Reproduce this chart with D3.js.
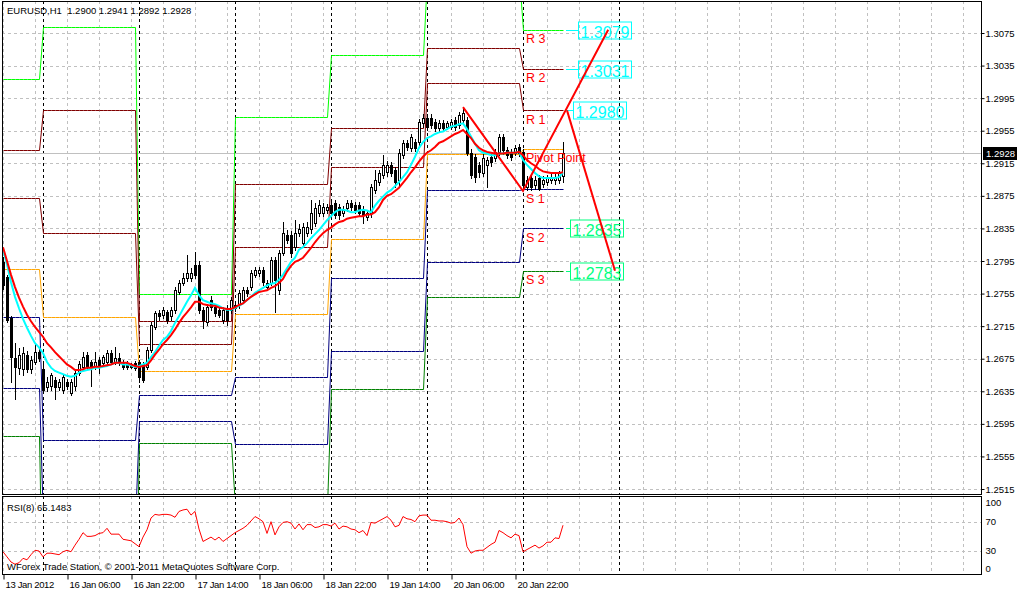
<!DOCTYPE html>
<html><head><meta charset="utf-8">
<script src="https://cdn.jsdelivr.net/npm/d3@7"></script>
<style>
body{margin:0;background:#fff;}
svg{display:block;}
text{font-family:"Liberation Sans",Arial,sans-serif;}
</style>
</head><body>
<svg id="c" width="1018" height="592"></svg>
<script>
// ---------------- DATA ----------------
const symbolTitle = "EURUSD,H1";
const lastBarText = "1.2900 1.2941 1.2892 1.2928";
const rsiTitle = "RSI(8) 65.1483";
const copyrightText = "WForex Trade Station, © 2001-2011 MetaQuotes Software Corp.";
const bidPrice = 1.2928;

const opens = [1.2794,1.2775,1.2725,1.2676,1.2664,1.2662,1.2680,1.2662,1.2671,1.2683,
1.2662,1.2640,1.2641,1.2649,1.2640,1.2637,1.2646,1.2633,1.2641,1.2658,
1.2665,1.2680,1.2671,1.2665,1.2674,1.2670,1.2671,1.2682,1.2671,1.2676,
1.2671,1.2670,1.2668,1.2670,
1.2671,1.2668,1.2665,1.2686,1.2714,1.2731,1.2729,1.2732,1.2727,1.2735,
1.2757,1.2768,1.2774,1.2774,1.2790,1.2790,1.2735,1.2720,1.2747,1.2738,
1.2735,1.2723,1.2737,1.2735,
1.2737,1.2741,1.2747,1.2759,1.2763,1.2778,1.2780,1.2784,1.2763,1.2768,
1.2796,1.2759,1.2805,1.2827,1.2827,1.2812,1.2830,1.2817,1.2830,1.2834,
1.2842,1.2854,1.2854,1.2858,
1.2864,1.2866,1.2861,1.2854,1.2860,1.2866,1.2864,1.2864,1.2858,1.2849,
1.2854,1.2882,1.2892,1.2901,1.2904,1.2913,1.2907,1.2895,1.2925,1.2940,
1.2934,1.2941,1.2941,1.2964,
1.2971,1.2971,1.2966,1.2958,1.2964,1.2960,1.2960,1.2968,1.2962,1.2968,
1.2968,1.2928,1.2923,1.2913,1.2903,1.2913,1.2923,1.2922,1.2929,1.2947,
1.2931,1.2929,1.2928,1.2935,
1.2929,1.2886,1.2897,1.2888,1.2897,1.2890,1.2892,1.2895,1.2895,1.2895,1.2900];

const highs = [1.2800,1.2778,1.2727,1.2694,1.2688,1.2690,1.2684,1.2678,1.2694,1.2688,
1.2668,1.2652,1.2658,1.2652,1.2650,1.2656,1.2650,1.2650,1.2662,1.2672,
1.2683,1.2683,1.2674,1.2683,1.2677,1.2680,1.2686,1.2686,1.2689,1.2682,
1.2674,1.2672,1.2670,1.2672,
1.2674,1.2671,1.2690,1.2720,1.2734,1.2735,1.2739,1.2735,1.2738,1.2763,
1.2772,1.2780,1.2802,1.2786,1.2806,1.2795,1.2738,1.2742,1.2752,1.2741,
1.2738,1.2738,1.2741,1.2751,
1.2745,1.2759,1.2763,1.2763,1.2784,1.2788,1.2788,1.2788,1.2772,1.2800,
1.2800,1.2809,1.2843,1.2833,1.2832,1.2845,1.2840,1.2842,1.2843,1.2870,
1.2866,1.2870,1.2866,1.2865,
1.2868,1.2870,1.2865,1.2862,1.2870,1.2870,1.2867,1.2867,1.2862,1.2858,
1.2890,1.2907,1.2907,1.2925,1.2918,1.2917,1.2911,1.2932,1.2944,1.2944,
1.2951,1.2945,1.2970,1.2975,
1.2975,1.2975,1.2970,1.2968,1.2968,1.2967,1.2969,1.2972,1.2978,1.2984,
1.2972,1.2932,1.2927,1.2917,1.2926,1.2923,1.2927,1.2933,1.2951,1.2951,
1.2935,1.2933,1.2938,1.2939,
1.2933,1.2899,1.2901,1.2899,1.2901,1.2899,1.2901,1.2903,1.2902,1.2906,1.2941];

const lows = [1.2761,1.2720,1.2646,1.2625,1.2656,1.2655,1.2659,1.2658,1.2668,1.2672,
1.2633,1.2635,1.2637,1.2625,1.2636,1.2633,1.2638,1.2630,1.2637,1.2655,
1.2662,1.2662,1.2641,1.2662,1.2658,1.2667,1.2668,1.2668,1.2668,1.2667,
1.2662,1.2662,1.2663,1.2661,
1.2647,1.2646,1.2662,1.2683,1.2711,1.2723,1.2725,1.2719,1.2723,1.2731,
1.2754,1.2765,1.2771,1.2771,1.2774,1.2731,1.2713,1.2717,1.2735,1.2727,
1.2726,1.2719,1.2717,1.2731,
1.2733,1.2737,1.2743,1.2752,1.2759,1.2775,1.2777,1.2765,1.2759,1.2765,
1.2732,1.2755,1.2802,1.2817,1.2800,1.2808,1.2826,1.2812,1.2826,1.2830,
1.2838,1.2850,1.2850,1.2854,
1.2850,1.2848,1.2847,1.2850,1.2856,1.2858,1.2854,1.2850,1.2842,1.2845,
1.2849,1.2878,1.2888,1.2897,1.2900,1.2899,1.2886,1.2886,1.2921,1.2931,
1.2930,1.2930,1.2937,1.2960,
1.2956,1.2958,1.2955,1.2955,1.2955,1.2957,1.2957,1.2956,1.2958,1.2965,
1.2925,1.2897,1.2892,1.2898,1.2899,1.2886,1.2912,1.2918,1.2925,1.2927,
1.2921,1.2919,1.2925,1.2924,
1.2882,1.2882,1.2882,1.2884,1.2882,1.2886,1.2888,1.2891,1.2890,1.2891,1.2892];

const closes = [1.2765,1.2723,1.2677,1.2665,1.2680,1.2682,1.2662,1.2674,1.2683,1.2676,
1.2637,1.2647,1.2655,1.2640,1.2646,1.2653,1.2641,1.2646,1.2658,1.2668,
1.2677,1.2665,1.2665,1.2671,1.2665,1.2677,1.2682,1.2671,1.2676,1.2671,
1.2665,1.2665,1.2665,1.2664,
1.2653,1.2649,1.2686,1.2717,1.2731,1.2727,1.2735,1.2723,1.2735,1.2759,
1.2768,1.2774,1.2780,1.2780,1.2778,1.2735,1.2723,1.2738,1.2738,1.2731,
1.2729,1.2735,1.2723,1.2747,
1.2741,1.2756,1.2759,1.2756,1.2780,1.2784,1.2784,1.2769,1.2768,1.2796,
1.2772,1.2805,1.2830,1.2821,1.2805,1.2830,1.2834,1.2837,1.2837,1.2854,
1.2860,1.2864,1.2861,1.2861,
1.2854,1.2852,1.2852,1.2858,1.2866,1.2861,1.2858,1.2854,1.2852,1.2854,
1.2886,1.2895,1.2903,1.2913,1.2913,1.2903,1.2892,1.2928,1.2940,1.2935,
1.2947,1.2934,1.2966,1.2971,
1.2960,1.2962,1.2958,1.2964,1.2958,1.2964,1.2966,1.2960,1.2974,1.2977,
1.2928,1.2901,1.2898,1.2904,1.2922,1.2919,1.2916,1.2929,1.2947,1.2931,
1.2925,1.2923,1.2934,1.2928,
1.2888,1.2895,1.2886,1.2895,1.2884,1.2895,1.2897,1.2898,1.2898,1.2903,1.2928];

const maFast = [1.2809,1.2791,1.2769,1.2751,1.2737,1.2724,1.2713,1.2703,1.2694,1.2689,
1.2682,1.2671,1.2664,1.2660,1.2658,1.2656,1.2654,1.2653,1.2654,1.2658,
1.2660,1.2661,1.2662,1.2664,1.2664,1.2665,1.2666,1.2668,1.2670,1.2670,
1.2668,1.2668,1.2667,1.2665,
1.2666,1.2668,1.2670,1.2677,1.2683,1.2691,1.2698,1.2702,1.2709,1.2719,
1.2727,1.2736,1.2745,1.2753,1.2762,1.2753,1.2747,1.2745,1.2743,1.2742,
1.2740,1.2737,1.2735,1.2735,
1.2737,1.2740,1.2743,1.2747,1.2751,1.2756,1.2759,1.2762,1.2765,1.2767,
1.2768,1.2772,1.2778,1.2786,1.2794,1.2799,1.2809,1.2812,1.2817,1.2823,
1.2828,1.2833,1.2839,1.2845,
1.2850,1.2855,1.2858,1.2858,1.2857,1.2855,1.2855,1.2857,1.2858,1.2857,
1.2855,1.2863,1.2869,1.2874,1.2879,1.2882,1.2887,1.2892,1.2898,1.2904,
1.2913,1.2923,1.2934,1.2941,
1.2946,1.2948,1.2951,1.2953,1.2954,1.2957,1.2960,1.2961,1.2963,1.2964,
1.2957,1.2948,1.2939,1.2931,1.2928,1.2927,1.2925,1.2925,1.2927,1.2927,
1.2928,1.2928,1.2928,1.2929,
1.2919,1.2913,1.2908,1.2903,1.2899,1.2897,1.2897,1.2897,1.2897,1.2898,1.2904];

const maSlow = [1.2812,1.2795,1.2778,1.2763,1.2750,1.2739,1.2729,1.2721,1.2714,1.2708,
1.2702,1.2694,1.2689,1.2683,1.2678,1.2673,1.2668,1.2665,1.2661,1.2661,
1.2662,1.2664,1.2664,1.2665,1.2665,1.2666,1.2667,1.2668,1.2670,1.2670,
1.2670,1.2670,1.2668,1.2666,
1.2665,1.2666,1.2667,1.2673,1.2680,1.2686,1.2693,1.2698,1.2704,1.2711,
1.2719,1.2726,1.2732,1.2738,1.2745,1.2745,1.2742,1.2741,1.2740,1.2740,
1.2738,1.2737,1.2736,1.2736,
1.2738,1.2741,1.2743,1.2747,1.2751,1.2754,1.2757,1.2758,1.2759,1.2762,
1.2764,1.2768,1.2773,1.2782,1.2789,1.2794,1.2796,1.2799,1.2805,1.2811,
1.2818,1.2824,1.2829,1.2833,
1.2836,1.2840,1.2843,1.2844,1.2847,1.2848,1.2849,1.2850,1.2850,1.2852,
1.2852,1.2855,1.2861,1.2870,1.2875,1.2877,1.2881,1.2885,1.2891,1.2897,
1.2904,1.2910,1.2917,1.2923,
1.2928,1.2931,1.2935,1.2940,1.2942,1.2945,1.2948,1.2951,1.2953,1.2956,
1.2951,1.2946,1.2939,1.2934,1.2931,1.2929,1.2928,1.2927,1.2927,1.2927,
1.2928,1.2928,1.2928,1.2929,
1.2925,1.2919,1.2915,1.2912,1.2908,1.2905,1.2904,1.2903,1.2903,1.2903,1.2904];

const rsiValues = [29,22,15,12,14,20,18,25,31,30,
22,27,27,26,25,29,31,29,38,46,
55,50,50,51,54,55,61,53,53,53,
46,45,44,40,
36,49,59,75,80,79,80,80,79,76,
84,86,87,79,84,60,43,46,49,45,
49,43,47,51,
55,58,61,65,71,77,74,70,54,70,
52,63,69,70,68,60,67,59,66,66,
62,63,66,66,
64,68,60,64,63,60,59,55,58,51,
69,68,71,74,77,72,63,65,77,74,
73,70,78,79,
79,72,72,71,71,70,68,69,75,66,
36,27,30,31,31,35,39,42,58,55,
51,48,53,51,
29,32,35,38,34,37,42,42,48,47,65.1483];

// daily pivot levels (one value per trading day)
const dayStartBars = [0,10,34,58,82,106,130];
const levelR3 = [1.3018,1.3082,1.2754,1.2972,1.3048,1.3145,1.3079];
const levelR2 = [1.2931,1.2980,1.2721,1.2889,1.2958,1.3057,1.3031];
const levelR1 = [1.2872,1.2829,1.2693,1.2812,1.2910,1.3013,1.2980];
const levelPP = [1.2785,1.2726,1.2660,1.2730,1.2822,1.2926,1.2933];
const levelS1 = [1.2726,1.2575,1.2631,1.2652,1.2774,1.2882,1.2883];
const levelS2 = [1.2639,1.2472,1.2598,1.2570,1.2685,1.2794,1.2835];
const levelS3 = [1.2580,1.2321,1.2571,1.2493,1.2638,1.2751,1.2783];

// projection lines (bar index, price)
const projBars1 = [115,130,151.3];
const projPrices1 = [1.2984,1.2881,1.3079];
const projBars2 = [141,153];
const projPrices2 = [1.2980,1.2783];

const separatorBars = [10,34,58,82,106,130,154];
const timeTickBars = [0,16,32,48,64,80,96,112,128];
const timeLabels = ["13 Jan 2012","16 Jan 06:00","16 Jan 22:00","17 Jan 14:00","18 Jan 06:00","18 Jan 22:00","19 Jan 14:00","20 Jan 06:00","20 Jan 22:00"];
const priceTicks = [1.2515,1.2555,1.2595,1.2635,1.2675,1.2715,1.2755,1.2795,1.2835,1.2875,1.2915,1.2955,1.2995,1.3035,1.3075];
const rsiTicks = [0,30,70,100];
const rsiLevels = [30,70];

// ---------------- DRAW ----------------
const svg = d3.select("#c");
const PL = 2, PR = 981, PT = 1, PB = 494;   // main panel
const ST = 496, SB = 574;                    // RSI panel
const lastBar = closes.length - 1;

const x = d3.scaleLinear().domain([0, 1]).range([3, 7]);
const y = d3.scaleLinear().domain([1.2515, 1.3075]).range([489, 33]);
const ry = d3.scaleLinear().domain([0, 100]).range([573, 499.7]);

svg.append("rect").attr("width",1018).attr("height",592).attr("fill","#fff");

const defs = svg.append("defs");
defs.append("clipPath").attr("id","clipMain").append("rect")
  .attr("x",PL+1).attr("y",PT+1).attr("width",PR-PL-1).attr("height",PB-PT-1);
defs.append("clipPath").attr("id","clipSub").append("rect")
  .attr("x",PL+1).attr("y",ST+1).attr("width",PR-PL-1).attr("height",SB-ST-1);

const gridColor = "#c0c0c0";
const mainG = svg.append("g").attr("clip-path","url(#clipMain)");
const subG = svg.append("g").attr("clip-path","url(#clipSub)");

// vertical grid (every 8 bars)
const vBars = d3.range(0, 245, 8);
[[mainG,PT,PB],[subG,ST,SB]].forEach(([g,t,b])=>{
  g.selectAll(null).data(vBars).join("line")
    .attr("x1",d=>x(d)+0.5).attr("x2",d=>x(d)+0.5).attr("y1",t).attr("y2",b)
    .attr("stroke",gridColor).attr("stroke-dasharray","3,3");
});
// horizontal grid
mainG.selectAll(null).data(priceTicks).join("line")
  .attr("x1",PL).attr("x2",PR).attr("y1",d=>Math.round(y(d))+0.5).attr("y2",d=>Math.round(y(d))+0.5)
  .attr("stroke",gridColor).attr("stroke-dasharray","3,3");
subG.selectAll(null).data(rsiLevels).join("line")
  .attr("x1",PL).attr("x2",PR).attr("y1",d=>Math.round(ry(d))+0.5).attr("y2",d=>Math.round(ry(d))+0.5)
  .attr("stroke",gridColor).attr("stroke-dasharray","3,3");

// period separators
[[mainG,PT,PB],[subG,ST,SB]].forEach(([g,t,b])=>{
  g.selectAll(null).data(separatorBars).join("line")
    .attr("x1",d=>x(d)+0.5).attr("x2",d=>x(d)+0.5).attr("y1",t).attr("y2",b)
    .attr("stroke","#000").attr("stroke-dasharray","3,3");
});

// bid line
mainG.append("line").attr("x1",PL).attr("x2",PR)
  .attr("y1",Math.round(y(bidPrice))+0.5).attr("y2",Math.round(y(bidPrice))+0.5)
  .attr("stroke","#c0c0c0");

// pivot level lines
const bars = d3.range(0, lastBar+1);
const dayOf = b => d3.bisectRight(dayStartBars, b) - 1;
const levelSets = [
  {vals:levelR3, color:"#00ff00"},
  {vals:levelR2, color:"#800000"},
  {vals:levelR1, color:"#800000"},
  {vals:levelPP, color:"#ffa500"},
  {vals:levelS1, color:"#000080"},
  {vals:levelS2, color:"#000080"},
  {vals:levelS3, color:"#008000"}
];
const stepLine = d3.line().x(b=>x(b)+0.5);
levelSets.forEach(ls=>{
  mainG.append("path")
    .attr("d", stepLine.y(b=>Math.round(y(ls.vals[dayOf(b)]))+0.5)(bars))
    .attr("fill","none").attr("stroke",ls.color).attr("stroke-width",1);
});

// candles
const cg = mainG.append("g");
bars.forEach(i=>{
  const X = x(i);
  cg.append("line").attr("x1",X+0.5).attr("x2",X+0.5)
    .attr("y1",Math.round(y(highs[i]))).attr("y2",Math.round(y(lows[i]))+1)
    .attr("stroke","#000");
  const top = Math.round(y(Math.max(opens[i],closes[i])));
  const bot = Math.round(y(Math.min(opens[i],closes[i])));
  const bull = closes[i] >= opens[i];
  cg.append("rect").attr("x",X-0.5).attr("y",top+0.5)
    .attr("width",2).attr("height",Math.max(0,bot-top))
    .attr("fill",bull?"#fff":"#000").attr("stroke","#000");
});

// moving averages
const maLine = d3.line().x((d,i)=>x(i)).y(d=>y(d));
mainG.append("path").attr("d",maLine(maFast)).attr("fill","none").attr("stroke","#00ffff").attr("stroke-width",2);
mainG.append("path").attr("d",maLine(maSlow)).attr("fill","none").attr("stroke","#ff0000").attr("stroke-width",2);

// level labels
const levelNames = ["R 3","R 2","R 1","Pivot Point","S 1","S 2","S 3"];
levelSets.forEach((ls,k)=>{
  mainG.append("text").attr("x",x(130)+3).attr("y",y(ls.vals[6])+13.5)
    .attr("font-size","12.5px").attr("fill","#ff0000").text(levelNames[k]);
});

// price boxes for last day
const boxSpec = [
  {vals:levelR3, color:"#00ffff", left:578},
  {vals:levelR2, color:"#00ffff", left:578},
  {vals:levelR1, color:"#00ffff", left:573},
  {vals:levelS2, color:"#00ff7f", left:570},
  {vals:levelS3, color:"#00ff7f", left:570}
];
boxSpec.forEach(bs=>{
  const v = bs.vals[6];
  const cy = Math.round(y(v))+0.5;
  mainG.append("line").attr("x1",566).attr("x2",bs.left).attr("y1",cy).attr("y2",cy).attr("stroke",bs.color);
  const t = mainG.append("text").attr("x",bs.left+2.5).attr("y",cy+7)
    .attr("font-size","16px").attr("fill",bs.color).text(v.toFixed(4));
  const w = t.node().getComputedTextLength();
  mainG.append("rect").attr("x",bs.left+0.5).attr("y",cy-8.5).attr("width",Math.round(w)+4).attr("height",17)
    .attr("fill","none").attr("stroke",bs.color);
});

// projection lines
const projLine = d3.line().x(d=>x(d[0])).y(d=>y(d[1]));
mainG.append("path").attr("d",projLine(projBars1.map((b,i)=>[b,projPrices1[i]])))
  .attr("fill","none").attr("stroke","#ff0000").attr("stroke-width",2);
mainG.append("path").attr("d",projLine(projBars2.map((b,i)=>[b,projPrices2[i]])))
  .attr("fill","none").attr("stroke","#ff0000").attr("stroke-width",2);

// RSI line
subG.append("path").attr("d",d3.line().x((d,i)=>x(i)).y(d=>ry(d))(rsiValues))
  .attr("fill","none").attr("stroke","#ff0000").attr("stroke-width",1);

// frames
svg.append("rect").attr("x",PL+0.5).attr("y",PT+0.5).attr("width",PR-PL).attr("height",PB-PT)
  .attr("fill","none").attr("stroke","#000");
svg.append("rect").attr("x",PL+0.5).attr("y",ST+0.5).attr("width",PR-PL).attr("height",SB-ST)
  .attr("fill","none").attr("stroke","#000");

// price axis
const pAxis = svg.append("g").attr("transform",`translate(${PR+0.5},0)`)
  .call(d3.axisRight(y).tickValues(priceTicks).tickFormat(d3.format(".4f")).tickSize(3).tickPadding(1));
pAxis.select(".domain").remove();
pAxis.selectAll("text").attr("font-size","9.5px").attr("font-family","Liberation Sans, Arial, sans-serif").attr("fill","#000");
pAxis.selectAll("line").attr("stroke","#000");

// current price tag
svg.append("rect").attr("x",PR+2).attr("y",Math.round(y(bidPrice))-6).attr("width",34).attr("height",13).attr("fill","#000");
svg.append("text").attr("x",PR+5).attr("y",Math.round(y(bidPrice))+4).attr("font-size","9.5px")
  .attr("fill","#fff").text(bidPrice.toFixed(4));

// RSI axis
const rAxis = svg.append("g").attr("transform",`translate(${PR+0.5},0)`)
  .call(d3.axisRight(ry).tickValues(rsiTicks).tickSize(0).tickPadding(4));
rAxis.select(".domain").remove();
rAxis.selectAll(".tick").attr("transform",d=>`translate(0,${Math.min(569,Math.max(503,ry(d)))})`);
rAxis.selectAll("text").attr("font-size","9.5px").attr("font-family","Liberation Sans, Arial, sans-serif").attr("fill","#000");

// time axis
const tAxis = svg.append("g").attr("transform",`translate(0.5,${SB+0.5})`)
  .call(d3.axisBottom(x).tickValues(timeTickBars).tickFormat((d,i)=>timeLabels[i]).tickSize(5).tickPadding(2));
tAxis.select(".domain").remove();
tAxis.selectAll("line").attr("stroke","#000");
tAxis.selectAll("text").attr("text-anchor","start").attr("dx","1.5").attr("font-size","9.5px")
  .attr("letter-spacing","-0.35px")
  .attr("font-family","Liberation Sans, Arial, sans-serif").attr("fill","#000");

// titles
svg.append("text").attr("x",7).attr("y",13.5).attr("font-size","9.5px").style("white-space","pre")
  .text(symbolTitle + "  " + lastBarText);
svg.append("text").attr("x",7).attr("y",510.5).attr("font-size","9.5px").text(rsiTitle);
svg.append("text").attr("x",7).attr("y",569.5).attr("font-size","9.5px").text(copyrightText);
</script>
</body></html>
